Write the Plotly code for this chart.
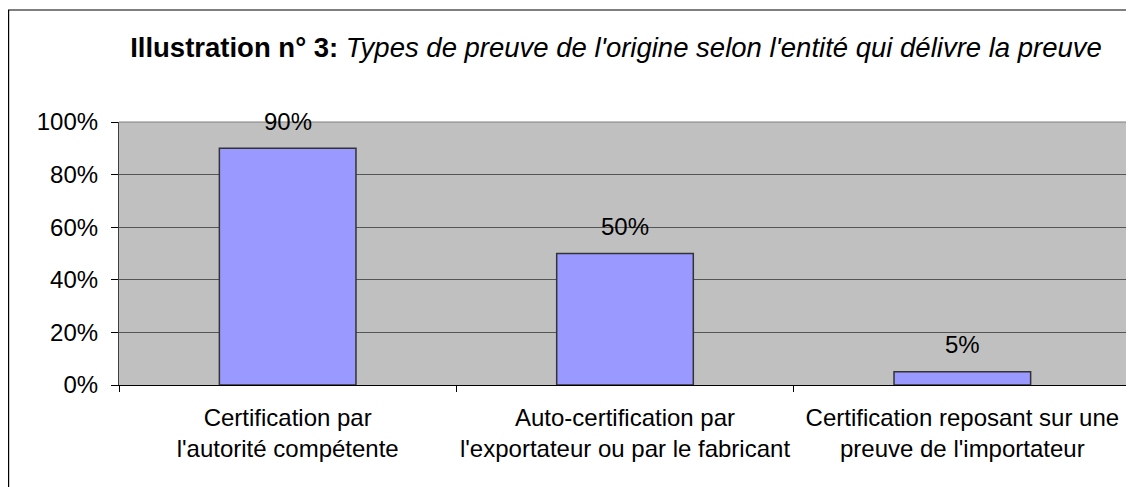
import plotly.graph_objects as go

categories = [
    "Certification par<br>l'autorité compétente",
    "Auto-certification par<br>l'exportateur ou par le fabricant",
    "Certification reposant sur une<br>preuve de l'importateur",
]
values = [0.90, 0.50, 0.05]
value_labels = ["90%", "50%", "5%"]
y_ticks = [0, 0.2, 0.4, 0.6, 0.8, 1.0]
y_tick_labels = ["0%", "20%", "40%", "60%", "80%", "100%"]

OFF = 8  # default page body margin
W, H = 1134 - OFF, 487 - OFF
L, R, T, B = 119 - OFF, 1131 - OFF, 122 - OFF, 385 - OFF
FONT = "Liberation Sans, Arial, sans-serif"
TICK_SIZE = 24

fig = go.Figure()
fig.add_trace(go.Bar(
    x=categories, y=values,
    marker=dict(color="#9999FF", line=dict(color="#333333", width=1.5)),
    width=0.405,
    hoverinfo="skip",
))

for c, v, t in zip(categories, values, value_labels):
    fig.add_annotation(x=c, y=v, text=t, showarrow=False, yanchor="middle",
                       yshift=27, font=dict(size=TICK_SIZE, color="black", family=FONT))

pw = R - L
ph = B - T
# outer chart border
fig.add_shape(type="rect", xref="paper", yref="paper",
              x0=(0.6 - L) / pw, x1=(W + 20 - L) / pw,
              y0=(B - (H + 20)) / ph, y1=(B - 2) / ph,
              line=dict(color="black", width=1.2), layer="below")
# plot area border (top/right)
fig.add_shape(type="line", xref="paper", yref="paper", x0=0, x1=1, y0=1, y1=1,
              line=dict(color="#808080", width=1.2))
fig.add_shape(type="line", xref="paper", yref="paper", x0=1, x1=1, y0=0, y1=1,
              line=dict(color="#808080", width=1.2))

fig.update_layout(
    width=W, height=H,
    margin=dict(l=L, r=W - R, t=T, b=H - B, pad=0, autoexpand=False),
    paper_bgcolor="white",
    plot_bgcolor="#C0C0C0",
    showlegend=False,
    font=dict(family=FONT, size=TICK_SIZE, color="black"),
    title=dict(
        text="<b>Illustration n° 3:</b> <i>Types de preuve de l'origine selon l'entité qui délivre la preuve</i>",
        x=(616 - OFF) / W, xanchor="center", xref="container",
        y=1 - (47 - OFF) / H, yanchor="middle", yref="container",
        font=dict(size=27.5, family=FONT, color="black"),
        automargin=False,
    ),
    xaxis=dict(
        type="category",
        tickson="boundaries",
        tickangle=0,
        automargin=False,
        ticks="outside", ticklen=6, tickcolor="black", tickwidth=1,
        showline=True, linecolor="black", linewidth=1.2,
        showgrid=False,
        tickfont=dict(size=TICK_SIZE, family=FONT, color="black"),
        ticklabelstandoff=11,
        range=[-0.5, 2.5],
    ),
    yaxis=dict(
        range=[0, 1.0],
        automargin=False,
        tickvals=y_ticks, ticktext=y_tick_labels,
        ticks="outside", ticklen=7, tickcolor="black", tickwidth=1,
        showline=True, linecolor="#404040", linewidth=1.2,
        showgrid=True, gridcolor="#555555", gridwidth=1.3,
        zeroline=False,
        tickfont=dict(size=TICK_SIZE, family=FONT, color="black"),
        ticklabelstandoff=8,
    ),
    bargap=0.595,
)

fig.write_html("out.html")
